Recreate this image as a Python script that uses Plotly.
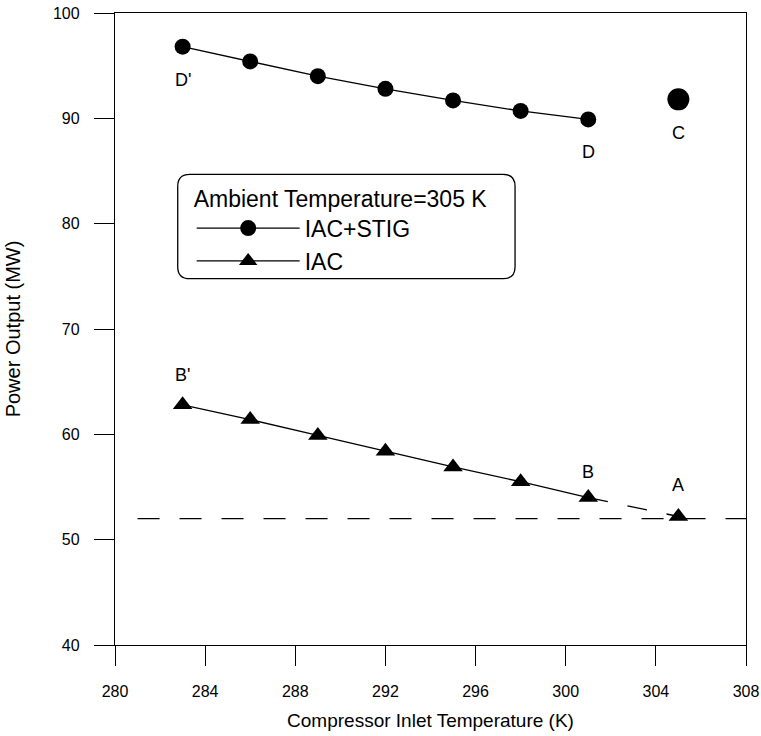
import plotly.graph_objects as go

# ---- data ----
inlet_temp = [283, 286, 289, 292, 295, 298, 301]
stig_power = [96.8, 95.4, 94.0, 92.8, 91.7, 90.7, 89.9]
iac_power = [62.8, 61.4, 59.9, 58.4, 56.9, 55.5, 54.0]

point_a = (305, 52.2)      # no cooling, ambient 305 K
point_c = (305, 91.8)      # STIG only
ref_level = 52.0           # dashed reference line
ref_span = [281, 308]

point_labels = ["D'", "D", "C", "B'", "B", "A"]

FONT = "Arial, Liberation Sans, sans-serif"

fig = go.Figure()

# horizontal dashed reference
fig.add_trace(go.Scatter(x=ref_span, y=[ref_level, ref_level], mode="lines",
                         line=dict(color="black", width=1.2, dash="22px,20px"),
                         showlegend=False, hoverinfo="skip"))
# dashed connector B -> A
fig.add_trace(go.Scatter(x=[inlet_temp[-1], point_a[0]], y=[iac_power[-1], point_a[1]],
                         mode="lines", line=dict(color="black", width=1.3, dash="20px,20px"),
                         showlegend=False, hoverinfo="skip"))

fig.add_trace(go.Scatter(x=inlet_temp, y=stig_power, mode="lines+markers", name="IAC+STIG",
                         line=dict(color="black", width=1.3),
                         marker=dict(symbol="circle", size=16, color="black")))
fig.add_trace(go.Scatter(x=inlet_temp, y=iac_power, mode="lines+markers", name="IAC",
                         line=dict(color="black", width=1.3),
                         marker=dict(symbol="triangle-up", size=17, color="black")))

# isolated points
fig.add_trace(go.Scatter(x=[point_c[0]], y=[point_c[1]], mode="markers",
                         marker=dict(symbol="circle", size=22, color="black"),
                         showlegend=False))
fig.add_trace(go.Scatter(x=[point_a[0]], y=[point_a[1]], mode="markers",
                         marker=dict(symbol="triangle-up", size=17, color="black"),
                         showlegend=False))

# point labels
label_pts = [
    (inlet_temp[0], stig_power[0], -33),
    (inlet_temp[-1], stig_power[-1], -33),
    (point_c[0], point_c[1], -34),
    (inlet_temp[0], iac_power[0], 30),
    (inlet_temp[-1], iac_power[-1], 26),
    (point_a[0], point_a[1], 31),
]
for txt, (x, y, dy) in zip(point_labels, label_pts):
    fig.add_annotation(x=x, y=y, text=txt, showarrow=False, yshift=dy,
                       font=dict(family=FONT, size=18, color="black"))

# rounded legend frame (paper coords)
x0, x1, y0, y1, rx, ry = 0.0994, 0.634, 0.5796, 0.7447, 0.019, 0.019
path = (f"M{x0+rx},{y1} L{x1-rx},{y1} Q{x1},{y1} {x1},{y1-ry} "
        f"L{x1},{y0+ry} Q{x1},{y0} {x1-rx},{y0} L{x0+rx},{y0} "
        f"Q{x0},{y0} {x0},{y0+ry} L{x0},{y1-ry} Q{x0},{y1} {x0+rx},{y1} Z")
fig.add_shape(type="path", path=path, xref="paper", yref="paper",
              line=dict(color="black", width=1.3), fillcolor="rgba(0,0,0,0)")

axis_common = dict(showline=True, linecolor="black", linewidth=1.3, mirror=True,
                   ticks="outside", ticklen=20, tickwidth=1.3, tickcolor="black",
                   showgrid=False, zeroline=False, automargin=False,
                   ticklabeloverflow="allow",
                   tickfont=dict(family=FONT, size=16, color="black"))

fig.update_layout(
    width=761, height=736,
    margin=dict(l=115, r=15, t=13, b=91),
    plot_bgcolor="white", paper_bgcolor="white",
    font=dict(family=FONT, color="black"),
    xaxis=dict(range=[280, 308], dtick=4, tick0=280, ticklabelstandoff=12,
               title=dict(text="Compressor Inlet Temperature (K)",
                          font=dict(family=FONT, size=19), standoff=14),
               **axis_common),
    yaxis=dict(range=[40, 100], dtick=10, tick0=40, ticklabelstandoff=11,
               title=dict(text="Power Output (MW)",
                          font=dict(family=FONT, size=20), standoff=26),
               **axis_common),
    legend=dict(x=0.1215, y=0.741, xanchor="left", yanchor="top",
                bgcolor="rgba(0,0,0,0)", borderwidth=0,
                title=dict(text="Ambient Temperature=305 K", font=dict(family=FONT, size=23)),
                font=dict(family=FONT, size=23), itemwidth=103),
    showlegend=True,
)

fig.write_html("out.html", config={"displayModeBar": False},
               post_script="document.body.style.margin='0';document.body.style.overflow='hidden';")
